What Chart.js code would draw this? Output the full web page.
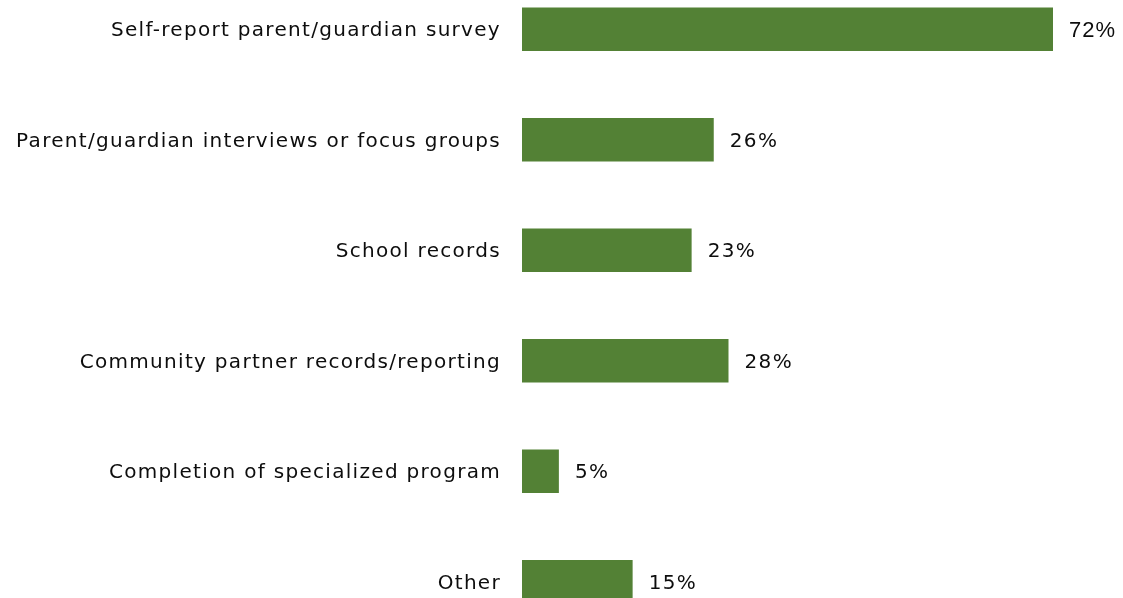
<!DOCTYPE html>
<html>
<head>
<meta charset="utf-8">
<script src="https://cdn.jsdelivr.net/npm/chart.js@4/dist/chart.umd.min.js"></script>
<style>
  html, body { margin: 0; padding: 0; background: #ffffff; overflow: hidden; }
  #frame { position: relative; width: 1123px; height: 598px; overflow: hidden; }
  #chart { position: absolute; left: 0; top: -26px; width: 1123px; height: 663px; }
</style>
</head>
<body>
<div id="frame"><canvas id="chart" width="1123" height="663"></canvas></div>
<script>
// Data collection methods and share of respondents using each
const categories = [
  'Self-report parent/guardian survey',
  'Parent/guardian interviews or focus groups',
  'School records',
  'Community partner records/reporting',
  'Completion of specialized program',
  'Other'
];
const shares = [72, 26, 23, 28, 5, 15];
const valueLabels = ['72%', '26%', '23%', '28%', '5%', '15%'];

const barGreen = '#538135';
const textColor = '#0d0d0d';
const labelFont = "'DejaVu Sans', 'Lato', sans-serif";

// Slightly open tracking for all text on the canvas
const tracking = {
  id: 'tracking',
  beforeDraw(chart) { chart.ctx.letterSpacing = '1.3px'; }
};

// Writes each value label just past the end of its bar
const endLabels = {
  id: 'endLabels',
  afterDatasetsDraw(chart) {
    const ctx = chart.ctx;
    const meta = chart.getDatasetMeta(0);
    ctx.save();
    ctx.fillStyle = textColor;
    ctx.textBaseline = 'middle';
    ctx.textAlign = 'left';
    meta.data.forEach((bar, i) => {
      if (i === 0) {
        ctx.letterSpacing = '1px';
        ctx.font = "22px 'Liberation Sans', Arial, sans-serif";
      } else {
        ctx.letterSpacing = '1.4px';
        ctx.font = "20px " + labelFont;
      }
      ctx.fillText(valueLabels[i], bar.x + 16, bar.y + 2);
    });
    ctx.restore();
  }
};

new Chart(document.getElementById('chart'), {
  type: 'bar',
  data: {
    labels: categories,
    datasets: [{
      data: shares,
      backgroundColor: barGreen,
      borderWidth: 0,
      barPercentage: 0.395,
      categoryPercentage: 1,
      clip: false
    }]
  },
  options: {
    indexAxis: 'y',
    responsive: false,
    maintainAspectRatio: false,
    devicePixelRatio: 1,
    animation: false,
    layout: { padding: { top: 0, bottom: 0, left: 0, right: 11 } },
    plugins: {
      legend: { display: false },
      tooltip: { enabled: false }
    },
    scales: {
      x: {
        min: 0,
        max: 80,
        display: false
      },
      y: {
        offset: true,
        border: { display: false },
        grid: { display: false, drawTicks: false },
        ticks: {
          color: textColor,
          padding: 21,
          labelOffset: 2,
          font: { family: labelFont, size: 20 }
        },
        afterFit(scale) {
          scale.width = 522;
          scale.paddingTop = 0;
          scale.paddingBottom = 0;
        }
      }
    }
  },
  plugins: [tracking, endLabels]
});
</script>
</body>
</html>
